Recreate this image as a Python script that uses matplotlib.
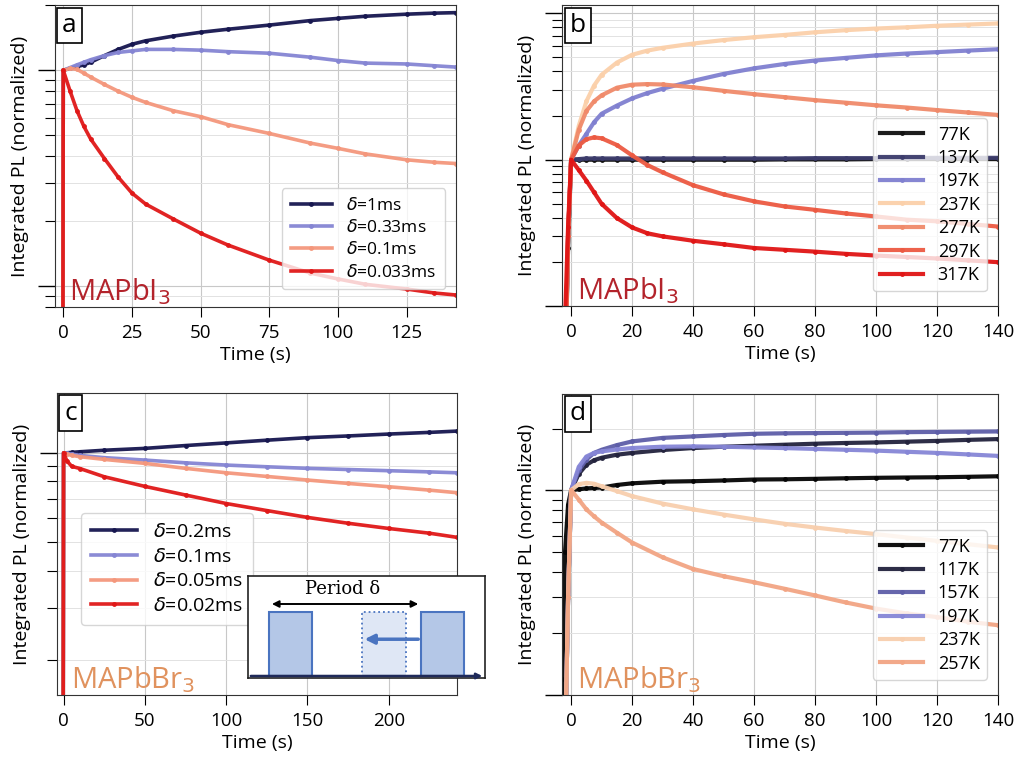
import numpy as np
import matplotlib
matplotlib.use("Agg")
import matplotlib.pyplot as plt
from matplotlib.ticker import LogLocator, NullFormatter
from matplotlib.patches import Rectangle

plt.rcParams['font.family'] = ['Open Sans', 'DejaVu Sans']
plt.rcParams['mathtext.fontset'] = 'dejavusans'

# ---------------- Panel a data (MAPbI3, duty cycle) ----------------
t_a = [-0.2, 0, 2.5, 5, 7.5, 10, 15, 20, 25, 30, 40, 50, 60, 75, 90, 100, 110, 125, 135, 143]
a_labels = [r'$\delta$=1ms', r'$\delta$=0.33ms', r'$\delta$=0.1ms', r'$\delta$=0.033ms']
a_1ms = [0.01, 1.00, 1.02, 1.04, 1.06, 1.09, 1.17, 1.25, 1.32, 1.37, 1.44, 1.50, 1.55, 1.62, 1.70, 1.74, 1.78, 1.82, 1.84, 1.85]
a_033ms = [0.01, 1.00, 1.03, 1.06, 1.09, 1.12, 1.17, 1.21, 1.23, 1.25, 1.25, 1.24, 1.22, 1.20, 1.15, 1.11, 1.08, 1.07, 1.05, 1.035]
a_01ms = [0.01, 1.00, 1.02, 1.01, 0.97, 0.93, 0.86, 0.80, 0.75, 0.71, 0.65, 0.61, 0.56, 0.51, 0.46, 0.435, 0.41, 0.385, 0.375, 0.37]
a_0033ms = [0.01, 1.00, 0.80, 0.65, 0.55, 0.48, 0.39, 0.32, 0.27, 0.24, 0.205, 0.176, 0.155, 0.132, 0.115, 0.108, 0.102, 0.097, 0.093, 0.091]

# ---------------- Panel b data (MAPbI3, temperature) ----------------
t_b = [-2, -1, 0, 2.5, 5, 7.5, 10, 15, 20, 25, 30, 40, 50, 60, 70, 80, 90, 100, 110, 120, 130, 140]
b_labels = ['77K', '137K', '197K', '237K', '277K', '297K', '317K']
b_77 = [0.03, 0.25, 1.00, 1.00, 1.00, 1.00, 1.00, 1.00, 1.00, 1.00, 1.00, 1.00, 1.00, 1.00, 1.005, 1.005, 1.005, 1.01, 1.01, 1.01, 1.01, 1.01]
b_137 = [0.03, 0.3, 1.00, 1.01, 1.02, 1.02, 1.02, 1.02, 1.02, 1.02, 1.02, 1.02, 1.02, 1.02, 1.02, 1.025, 1.025, 1.025, 1.025, 1.03, 1.03, 1.03]
b_197 = [0.03, 0.3, 1.00, 1.25, 1.50, 1.80, 2.06, 2.34, 2.62, 2.85, 3.05, 3.45, 3.85, 4.20, 4.50, 4.75, 4.95, 5.15, 5.30, 5.42, 5.55, 5.67]
b_237 = [0.03, 0.3, 1.00, 1.70, 2.50, 3.20, 3.80, 4.60, 5.20, 5.55, 5.80, 6.20, 6.55, 6.85, 7.10, 7.40, 7.65, 7.85, 8.00, 8.20, 8.35, 8.50]
b_277 = [0.03, 0.3, 1.00, 1.60, 2.15, 2.50, 2.75, 3.10, 3.25, 3.28, 3.26, 3.12, 2.95, 2.80, 2.67, 2.55, 2.45, 2.35, 2.27, 2.18, 2.10, 2.02]
b_297 = [0.03, 0.3, 1.00, 1.25, 1.38, 1.42, 1.40, 1.26, 1.07, 0.92, 0.82, 0.67, 0.58, 0.52, 0.48, 0.455, 0.43, 0.41, 0.39, 0.38, 0.365, 0.35]
b_317 = [0.08, 0.35, 1.00, 0.85, 0.72, 0.60, 0.50, 0.40, 0.345, 0.315, 0.30, 0.28, 0.265, 0.25, 0.243, 0.236, 0.228, 0.222, 0.217, 0.212, 0.206, 0.20]

# ---------------- Panel c data (MAPbBr3, duty cycle) ----------------
t_c = [-0.5, 0, 2, 5, 10, 25, 50, 75, 100, 125, 150, 175, 200, 225, 242]
c_labels = [r'$\delta$=0.2ms', r'$\delta$=0.1ms', r'$\delta$=0.05ms', r'$\delta$=0.02ms']
c_02ms = [0.01, 1.0, 1.0, 1.003, 1.008, 1.02, 1.035, 1.058, 1.08, 1.103, 1.125, 1.14, 1.157, 1.172, 1.184]
c_01ms = [0.01, 1.0, 0.995, 0.99, 0.98, 0.963, 0.945, 0.925, 0.909, 0.897, 0.886, 0.878, 0.87, 0.862, 0.856]
c_005ms = [0.01, 1.0, 0.99, 0.98, 0.97, 0.95, 0.921, 0.886, 0.856, 0.832, 0.809, 0.788, 0.768, 0.748, 0.733]
c_002ms = [0.01, 1.0, 0.94, 0.90, 0.885, 0.83, 0.77, 0.72, 0.674, 0.638, 0.605, 0.578, 0.555, 0.535, 0.518]

# ---------------- Panel d data (MAPbBr3, temperature) ----------------
t_d = [-3, -2.5, -2, -1, 0, 2.5, 5, 7.5, 10, 15, 20, 30, 40, 50, 60, 70, 80, 90, 100, 110, 120, 130, 140]
d_labels = ['77K', '117K', '157K', '197K', '237K', '257K']
d_77 = [0.03, 0.12, 0.5, 0.85, 1.0, 1.01, 1.02, 1.025, 1.03, 1.06, 1.08, 1.10, 1.106, 1.115, 1.127, 1.13, 1.136, 1.143, 1.149, 1.153, 1.156, 1.162, 1.169]
d_117 = [0.01, 0.02, 0.05, 0.3, 1.0, 1.2, 1.33, 1.40, 1.44, 1.49, 1.52, 1.57, 1.606, 1.63, 1.648, 1.667, 1.686, 1.70, 1.71, 1.725, 1.74, 1.76, 1.776]
d_157 = [0.01, 0.02, 0.05, 0.3, 1.0, 1.25, 1.41, 1.52, 1.575, 1.66, 1.73, 1.80, 1.83, 1.86, 1.885, 1.895, 1.90, 1.905, 1.91, 1.92, 1.925, 1.93, 1.935]
d_197 = [0.01, 0.02, 0.05, 0.3, 1.0, 1.3, 1.46, 1.52, 1.546, 1.58, 1.606, 1.63, 1.636, 1.63, 1.617, 1.605, 1.59, 1.575, 1.56, 1.54, 1.52, 1.495, 1.47]
d_237 = [0.01, 0.02, 0.05, 0.3, 1.0, 1.07, 1.086, 1.075, 1.045, 0.99, 0.935, 0.86, 0.806, 0.76, 0.72, 0.685, 0.657, 0.632, 0.61, 0.587, 0.565, 0.545, 0.525]
d_257 = [0.01, 0.02, 0.05, 0.3, 1.0, 0.9, 0.806, 0.745, 0.695, 0.62, 0.555, 0.47, 0.412, 0.38, 0.355, 0.33, 0.306, 0.283, 0.264, 0.25, 0.24, 0.228, 0.219]

# colours
col_a = ['#16164f', '#8585d3', '#f4977c', '#e01818']
col_b = ['#111111', '#3c3c6c', '#8080d0', '#fbd0aa', '#f08a6a', '#ec5a42', '#e01515']
col_c = ['#16164f', '#8585d3', '#f4977c', '#e01818']
col_d = ['#050505', '#23233d', '#5e5ea8', '#8686d6', '#f8cfae', '#f2a584']

fig = plt.figure(figsize=(10.19, 7.62), dpi=100)
ax_a = fig.add_axes([0.054, 0.597, 0.3935, 0.396])
ax_b = fig.add_axes([0.5515, 0.598, 0.428, 0.395])
ax_c = fig.add_axes([0.056, 0.088, 0.3925, 0.396])
ax_d = fig.add_axes([0.5515, 0.088, 0.428, 0.395])


def style(ax, xlim, ylim, xticks, letter, material, mcolor):
    ax.set_yscale('log')
    ax.set_xlim(xlim)
    ax.set_ylim(ylim)
    ax.set_xticks(xticks)
    ax.yaxis.set_major_locator(LogLocator(base=10, numticks=10))
    ax.yaxis.set_minor_locator(LogLocator(base=10, subs=np.arange(2, 10), numticks=20))
    ax.yaxis.set_major_formatter(NullFormatter())
    ax.yaxis.set_minor_formatter(NullFormatter())
    ax.grid(True, which='major', color='#c8c8c8', lw=0.8)
    ax.grid(True, which='minor', axis='y', color='#e2e2e2', lw=0.7)
    ax.set_axisbelow(True)
    ax.tick_params(axis='y', which='major', length=12, width=1)
    ax.tick_params(axis='y', which='minor', length=7, width=0.8)
    ax.tick_params(axis='x', which='major', length=7, labelsize=13.5, pad=5)
    for s in ax.spines.values():
        s.set_color('#333333')
    ax.set_xlabel('Time (s)', fontsize=14, labelpad=3)
    ax.set_ylabel('Integrated PL (normalized)', fontsize=14, labelpad=3)
    ax.text(0.018, 0.975, letter, transform=ax.transAxes, fontsize=19, va='top', ha='left',
            bbox=dict(boxstyle='square,pad=0.2', fc='white', ec='black', lw=1.2), zorder=10)
    ax.text(0.035, 0.0, material, transform=ax.transAxes, fontsize=21, color=mcolor,
            va='bottom', ha='left', zorder=10)


# panel a
for vals, c, lab in zip([a_1ms, a_033ms, a_01ms, a_0033ms], col_a, a_labels):
    ax_a.plot(t_a, vals, '-o', color=c, lw=2.6, ms=2.5, label=lab, alpha=0.95)
style(ax_a, (-3, 143), (0.08, 2.0), [0, 25, 50, 75, 100, 125], 'a', r'MAPbI$_3$', '#b3232b')
ax_a.legend(loc='lower right', fontsize=12.5, handlelength=2.4, borderpad=0.5, labelspacing=0.3,
            bbox_to_anchor=(0.995, 0.03))

# panel b
for vals, c, lab in zip([b_77, b_137, b_197, b_237, b_277, b_297, b_317], col_b, b_labels):
    ax_b.plot(t_b, vals, '-o', color=c, lw=3, ms=2.5, label=lab, alpha=0.95)
style(ax_b, (-3, 140), (0.1, 11.3), [0, 20, 40, 60, 80, 100, 120, 140], 'b', r'MAPbI$_3$', '#b3232b')
ax_b.legend(loc='lower right', fontsize=13, handlelength=2.4, borderpad=0.4, labelspacing=0.3,
            bbox_to_anchor=(0.995, 0.02))

# panel c
for vals, c, lab in zip([c_02ms, c_01ms, c_005ms, c_002ms], col_c, c_labels):
    ax_c.plot(t_c, vals, '-o', color=c, lw=2.6, ms=2.5, label=lab, alpha=0.95)
style(ax_c, (-4, 242), (0.152, 1.59), [0, 50, 100, 150, 200], 'c', r'MAPbBr$_3$', '#e0925e')
ax_c.legend(loc='lower left', fontsize=14, handlelength=2.4, borderpad=0.5, labelspacing=0.35,
            bbox_to_anchor=(0.035, 0.2))

# panel d
for vals, c, lab in zip([d_77, d_117, d_157, d_197, d_237, d_257], col_d, d_labels):
    ax_d.plot(t_d, vals, '-o', color=c, lw=3, ms=2.5, label=lab, alpha=0.95)
style(ax_d, (-3, 140), (0.1, 2.95), [0, 20, 40, 60, 80, 100, 120, 140], 'd', r'MAPbBr$_3$', '#e0925e')
ax_d.legend(loc='lower right', fontsize=13, handlelength=2.4, borderpad=0.4, labelspacing=0.3,
            bbox_to_anchor=(0.995, 0.02))

# inset schematic in panel c
ax_in = fig.add_axes([0.2434, 0.1102, 0.2326, 0.134])
ax_in.set_xlim(0, 1)
ax_in.set_ylim(0, 1)
ax_in.set_xticks([])
ax_in.set_yticks([])
for s in ax_in.spines.values():
    s.set_color('#222222')
    s.set_linewidth(1.2)
edge = '#4a74c0'
ax_in.add_patch(Rectangle((0.089, 0.02), 0.18, 0.63, fc='#b4c7e7', ec=edge, lw=1.5))
ax_in.add_patch(Rectangle((0.48, 0.02), 0.187, 0.63, fc='#dfe7f5', ec=edge, lw=1.3, ls=':'))
ax_in.add_patch(Rectangle((0.73, 0.02), 0.18, 0.63, fc='#b4c7e7', ec=edge, lw=1.5))
ax_in.annotate('', xy=(1.0, 0.02), xytext=(0.0, 0.02),
               arrowprops=dict(arrowstyle='-|>', color='#1f2a5a', lw=1.8, mutation_scale=8))
ax_in.annotate('', xy=(0.089, 0.725), xytext=(0.73, 0.725),
               arrowprops=dict(arrowstyle='<|-|>', color='black', lw=1.4, mutation_scale=10))
ax_in.annotate('', xy=(0.48, 0.38), xytext=(0.73, 0.38),
               arrowprops=dict(arrowstyle='-|>', color=edge, lw=2.5, mutation_scale=14))
ax_in.text(0.40, 0.78, 'Period δ', fontsize=13, ha='center', va='bottom',
           family=['DejaVu Serif', 'DejaVu Sans'])

fig.savefig('out.png', dpi=100)
